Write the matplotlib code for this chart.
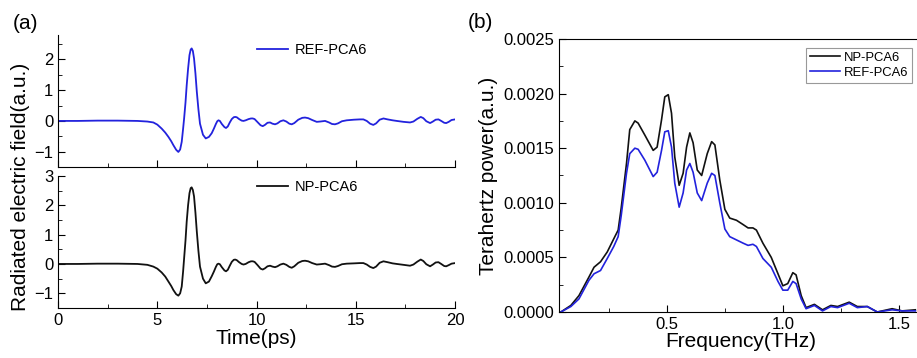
import matplotlib
matplotlib.use("Agg")
import matplotlib.pyplot as plt
from matplotlib.ticker import MultipleLocator, FormatStrFormatter

plt.rcParams['font.family'] = ['Liberation Sans', 'DejaVu Sans']

# time-domain pulses (ps, a.u.)
t_ps = [0, 1, 2, 3, 4, 4.5, 4.8, 5.0, 5.22, 5.4, 5.56, 5.7, 5.81, 5.95, 6.06, 6.15, 6.23,
        6.3, 6.35, 6.42, 6.48, 6.55, 6.62, 6.68, 6.73, 6.79, 6.85, 6.92, 6.99, 7.07, 7.15,
        7.3, 7.44, 7.6, 7.74, 7.85, 7.95, 8.02, 8.08, 8.15, 8.25, 8.38, 8.46, 8.55, 8.65,
        8.75, 8.85, 8.92, 9.0, 9.12, 9.25, 9.34, 9.45, 9.6, 9.72, 9.81, 9.9, 10.05, 10.2,
        10.31, 10.42, 10.55, 10.68, 10.8, 10.93, 11.05, 11.2, 11.35, 11.5, 11.65, 11.77,
        11.9, 12.1, 12.3, 12.44, 12.6, 12.8, 13.03, 13.2, 13.45, 13.65, 13.8, 13.95, 14.1,
        14.3, 14.54, 14.9, 15.2, 15.38, 15.55, 15.72, 15.88, 16.02, 16.2, 16.39, 16.6,
        16.85, 17.06, 17.4, 17.73, 17.9, 18.1, 18.27, 18.4, 18.55, 18.74, 18.88, 19.02,
        19.16, 19.3, 19.45, 19.55, 19.68, 19.82, 20.0]

ref_field = [0, 0.0, 0.01, 0.01, 0.0, -0.02, -0.05, -0.12, -0.25, -0.38, -0.52, -0.66, -0.79,
             -0.94, -1.01, -0.93, -0.68, -0.25, 0.08, 0.6, 1.16, 1.7, 2.14, 2.32, 2.36, 2.28,
             2.03, 1.55, 0.95, 0.38, -0.09, -0.45,
             -0.57, -0.52, -0.4, -0.25, -0.1, -0.01, 0.02, 0.0, -0.1, -0.2, -0.23, -0.18,
             -0.05, 0.06, 0.12, 0.13, 0.12, 0.06, 0.01, 0.0, 0.02, 0.06, 0.08, 0.08, 0.06,
             -0.04, -0.14, -0.17, -0.13, -0.06, -0.05, -0.09, -0.11, -0.08, -0.01, 0.02,
             -0.02, -0.09, -0.11, -0.07, 0.04, 0.1, 0.11, 0.09, 0.03, -0.03, -0.02, 0.0,
             -0.05, -0.1, -0.11, -0.08, -0.01, 0.02, 0.04, 0.05, 0.05, 0.0, -0.09, -0.13,
             -0.08, 0.04, 0.08, 0.05, 0.02, 0.0, -0.03, -0.05, -0.02, 0.07, 0.13, 0.09,
             -0.01, -0.07, -0.02, 0.04, 0.05, 0.0, -0.06, -0.07, -0.03, 0.03, 0.05]

np_field = [0, 0, 0.01, 0.01, 0.0, -0.03, -0.09, -0.16, -0.29, -0.43, -0.6, -0.75, -0.89,
            -1.03, -1.08, -1.0, -0.77, -0.25, 0.19, 0.8, 1.44, 2.0, 2.41, 2.58, 2.61, 2.52,
            2.3, 1.75, 1.1, 0.45, -0.09, -0.5,
            -0.66, -0.6, -0.42, -0.26, -0.1, -0.01, 0.01, -0.01, -0.11, -0.22, -0.25, -0.2,
            -0.06, 0.07, 0.14, 0.15, 0.13, 0.06, 0.0, -0.02, 0.0, 0.06, 0.09, 0.09, 0.07,
            -0.04, -0.16, -0.19, -0.15, -0.08, -0.06, -0.09, -0.11, -0.08, -0.02, 0.01,
            -0.03, -0.1, -0.13, -0.08, 0.04, 0.1, 0.11, 0.09, 0.03, -0.02, -0.01, 0.01,
            -0.04, -0.09, -0.1, -0.07, -0.01, 0.01, 0.02, 0.03, 0.03, -0.02, -0.1, -0.14,
            -0.09, 0.04, 0.09, 0.06, 0.02, 0.0, -0.03, -0.06, -0.02, 0.08, 0.15, 0.1,
            -0.01, -0.08, -0.02, 0.05, 0.06, 0.0, -0.07, -0.08, -0.04, 0.01, 0.03]

# spectra (THz, a.u.)
freq_np = [0.043, 0.086, 0.121, 0.164, 0.186, 0.214, 0.243, 0.271, 0.29, 0.303,
           0.326, 0.34, 0.362, 0.376, 0.405, 0.441, 0.458, 0.477, 0.491, 0.506, 0.52, 0.534,
           0.553, 0.57, 0.585, 0.599, 0.613, 0.631, 0.65, 0.674, 0.693, 0.707, 0.728, 0.75,
           0.771, 0.8, 0.829, 0.85, 0.871, 0.886, 0.914, 0.95, 0.979, 1.0, 1.021, 1.043, 1.057,
           1.079, 1.1, 1.136, 1.171, 1.207, 1.236, 1.286, 1.321, 1.364, 1.407, 1.471, 1.514,
           1.571]
power_np = [0, 0.00006, 0.00015, 0.00032, 0.00041, 0.00046, 0.00055, 0.00067, 0.00075, 0.00095,
            0.00136, 0.00167, 0.00175, 0.00173, 0.00162, 0.00148, 0.00151, 0.00176, 0.00197,
            0.00199, 0.00182, 0.00142, 0.00116, 0.00127, 0.00151, 0.00164, 0.00155, 0.0013,
            0.00125, 0.00145, 0.00156, 0.00153, 0.00121, 0.00094,
            0.00086, 0.00084, 0.0008, 0.00077, 0.00077, 0.00075, 0.00063, 0.0005, 0.00035,
            0.00024, 0.00026, 0.00036, 0.00034, 0.00015, 0.00004, 0.00007, 0.00002, 0.00006,
            0.00005, 0.00009, 0.00005, 0.00005, 0.0, 0.00003, 0.00001, 0.00002]
freq_ref = freq_np
power_ref = [0, 0.00005, 0.00012, 0.00029, 0.00035, 0.00038, 0.00049, 0.0006, 0.00069, 0.00088,
             0.00127, 0.00145, 0.0015, 0.00149, 0.00139, 0.00124, 0.00128, 0.00148, 0.00165,
             0.00166, 0.00151, 0.00118, 0.00096, 0.00109, 0.0013, 0.00136, 0.00128, 0.00109,
             0.00102, 0.00118, 0.00127, 0.00125, 0.001, 0.00076,
             0.00069, 0.00066, 0.00063, 0.00061, 0.00062, 0.0006, 0.00049, 0.00041, 0.00028,
             0.0002, 0.0002, 0.00028, 0.00026, 0.00012, 0.00003, 0.00006, 0.00001, 0.00005,
             0.00004, 0.00008, 0.00004, 0.00005, 0.0, 0.00002, 0.00001, 0.00001]

blue = '#2222dd'
black = '#111111'

fig = plt.figure(figsize=(9.17, 3.58), dpi=100)
ax_top = fig.add_axes([0.0633, 0.5335, 0.4330, 0.369])
ax_bot = fig.add_axes([0.0633, 0.1397, 0.4330, 0.369])
ax_spec = fig.add_axes([0.6096, 0.1285, 0.3959, 0.7626])


def style_time(ax, ylims, labels_on):
    ax.spines['top'].set_visible(False)
    ax.spines['right'].set_visible(False)
    ax.set_xlim(0, 20)
    ax.set_ylim(*ylims)
    ax.xaxis.set_major_locator(MultipleLocator(5))
    ax.xaxis.set_minor_locator(MultipleLocator(2.5))
    ax.yaxis.set_major_locator(MultipleLocator(1))
    ax.yaxis.set_minor_locator(MultipleLocator(0.5))
    ax.tick_params(which='both', direction='in', labelsize=12, top=False, right=False)
    ax.tick_params(which='major', length=5)
    ax.tick_params(which='minor', length=3)
    if not labels_on:
        ax.tick_params(axis='x', labelbottom=False)


ax_top.plot(t_ps, ref_field, color=blue, lw=1.3, label='REF-PCA6')
style_time(ax_top, (-1.5, 2.8), False)
ax_top.legend(loc='center left', bbox_to_anchor=(0.501, 0.886), frameon=False, fontsize=10.5,
              borderpad=0, borderaxespad=0, handlelength=2.1, handletextpad=0.5)

ax_bot.plot(t_ps, np_field, color=black, lw=1.3, label='NP-PCA6')
style_time(ax_bot, (-1.5, 3), True)
ax_bot.legend(loc='center left', bbox_to_anchor=(0.501, 0.917), frameon=False, fontsize=10.5,
              borderpad=0, borderaxespad=0, handlelength=2.1, handletextpad=0.5)
ax_bot.set_xlabel('Time(ps)', fontsize=15, labelpad=1)

fig.text(0.022, 0.479, 'Radiated electric field(a.u.)', rotation=90, fontsize=15,
         ha='center', va='center')
fig.text(0.014, 0.935, '(a)', fontsize=15, ha='left', va='center')
fig.text(0.510, 0.938, '(b)', fontsize=15, ha='left', va='center')

ax_spec.plot(freq_np, power_np, color=black, lw=1.2, label='NP-PCA6')
ax_spec.plot(freq_ref, power_ref, color=blue, lw=1.2, label='REF-PCA6')
ax_spec.set_xlim(0.035, 1.6)
ax_spec.set_ylim(0, 0.0025)
ax_spec.xaxis.set_major_locator(MultipleLocator(0.5))
ax_spec.xaxis.set_minor_locator(MultipleLocator(0.25))
ax_spec.yaxis.set_major_locator(MultipleLocator(0.0005))
ax_spec.yaxis.set_minor_locator(MultipleLocator(0.00025))
ax_spec.yaxis.set_major_formatter(FormatStrFormatter('%.4f'))
ax_spec.xaxis.set_major_formatter(FormatStrFormatter('%.1f'))
ax_spec.tick_params(which='both', direction='in', labelsize=12)
ax_spec.tick_params(which='major', length=5)
ax_spec.tick_params(which='minor', length=3)
ax_spec.set_xlabel('Frequency(THz)', fontsize=15, labelpad=0)
ax_spec.set_ylabel('Terahertz power(a.u.)', fontsize=15, labelpad=4)
leg = ax_spec.legend(loc='upper right', bbox_to_anchor=(0.9945, 0.866),
                     bbox_transform=fig.transFigure, fontsize=9.4, fancybox=False,
                     edgecolor='#999999', framealpha=1, borderpad=0.3, labelspacing=0.2,
                     handlelength=2.3, handletextpad=0.3, borderaxespad=0)
leg.get_frame().set_linewidth(0.8)

fig.savefig('out.png', dpi=100)
